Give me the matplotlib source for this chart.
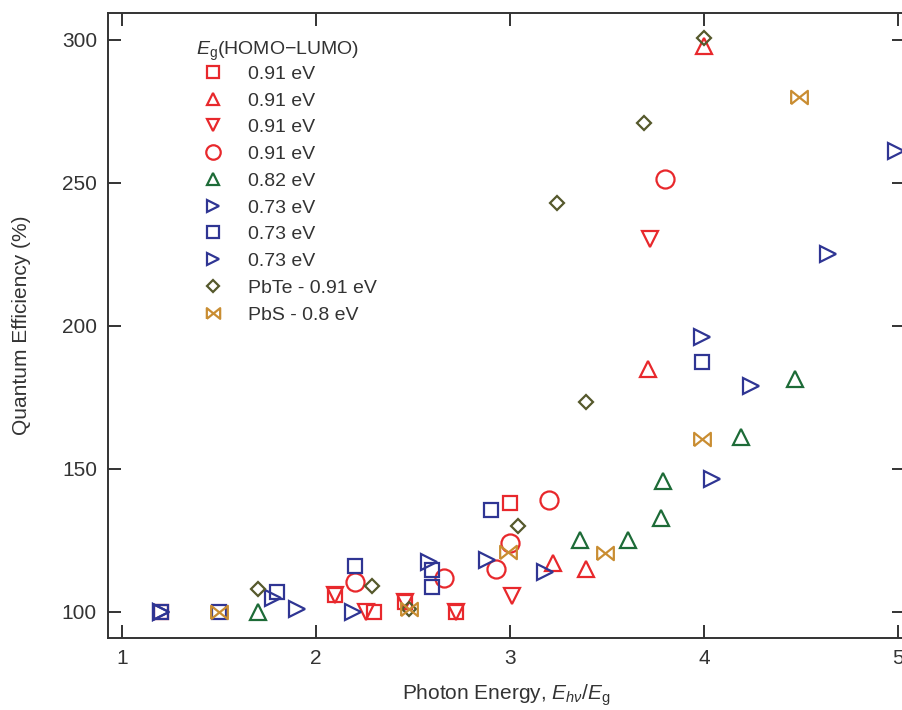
import matplotlib
matplotlib.use("Agg")
from matplotlib import pyplot as plt

plt.rcParams['font.family'] = ['Liberation Sans', 'DejaVu Sans']
plt.rcParams['mathtext.fontset'] = 'custom'
plt.rcParams['mathtext.rm'] = 'Liberation Sans'
plt.rcParams['mathtext.it'] = 'Liberation Sans:italic'

# data: x = photon energy / Eg, y = quantum efficiency (%)
sq_red_x = [1.2, 2.1, 2.3, 2.46, 2.72, 3.0]
sq_red_y = [100, 106, 100, 103.5, 100, 138]
tri_red_x = [3.22, 3.39, 3.71, 4.0]
tri_red_y = [117, 115, 185, 298]
dtri_red_x = [2.1, 2.26, 2.46, 2.72, 3.01, 3.72]
dtri_red_y = [106, 100, 103.5, 100, 105.5, 230.5]
circ_red_x = [2.2, 2.66, 2.93, 3.0, 3.2, 3.8]
circ_red_y = [110.5, 112, 115, 124, 139, 251.5]
tri_green_x = [1.7, 3.36, 3.61, 3.78, 3.79, 4.19, 4.47]
tri_green_y = [100, 125, 125, 133, 145.7, 161, 181.5]
rtri_blue1_x = [1.2, 1.9, 2.58, 3.18, 3.99, 4.64, 4.99]
rtri_blue1_y = [100, 101, 117.5, 114, 196, 225, 261.3]
sq_blue_x = [1.2, 1.5, 1.8, 2.2, 2.6, 2.6, 2.9, 3.99]
sq_blue_y = [100, 100, 107, 116, 114.6, 108.7, 135.5, 187.5]
rtri_blue2_x = [1.2, 1.78, 2.19, 2.88, 4.04, 4.24]
rtri_blue2_y = [100, 105, 100, 118, 146.5, 179]
pbte_x = [1.7, 2.29, 2.48, 3.04, 3.24, 3.39, 3.69, 4.0]
pbte_y = [108, 109, 101, 130, 243, 173.5, 271, 300.5]
pbs_x = [1.5, 2.48, 2.99, 3.49, 3.99, 4.49]
pbs_y = [100, 101, 121, 120.5, 160.5, 280]

labels = ['0.91 eV', '0.91 eV', '0.91 eV', '0.91 eV', '0.82 eV',
          '0.73 eV', '0.73 eV', '0.73 eV', 'PbTe - 0.91 eV', 'PbS - 0.8 eV']

red = '#e8282c'
green = '#1d6b37'
blue = '#2f3593'
olive = '#55592c'
orange = '#c98d32'

bowtie = [(-1, -0.8), (-1, 0.8), (1, -0.8), (1, 0.8), (-1, -0.8)]

series = [
    (sq_red_x, sq_red_y, 's', red, 10.5),
    (tri_red_x, tri_red_y, '^', red, 11),
    (dtri_red_x, dtri_red_y, 'v', red, 11),
    (circ_red_x, circ_red_y, 'o', red, 13),
    (tri_green_x, tri_green_y, '^', green, 11),
    (rtri_blue1_x, rtri_blue1_y, '>', blue, 11),
    (sq_blue_x, sq_blue_y, 's', blue, 10.5),
    (rtri_blue2_x, rtri_blue2_y, '>', blue, 11),
    (pbte_x, pbte_y, 'D', olive, 7.5),
    (pbs_x, pbs_y, bowtie, orange, 12),
]

fig = plt.figure(figsize=(9.03, 7.10), dpi=100)
ax = fig.add_axes([108/903, 72/710, 797/903, 625/710])

for (x, y, m, c, ms), lab in zip(series, labels):
    ax.plot(x, y, ls='none', marker=m, ms=ms, mfc='none', mec=c, mew=1.6,
            label=lab, clip_on=False)

ax.set_xlim(0.928, 5.036)
ax.set_ylim(90.9, 309.4)
ax.set_xticks([1, 2, 3, 4, 5])
ax.set_yticks([100, 150, 200, 250, 300])
ax.tick_params(direction='in', length=9.5, width=1.4, labelsize=15,
               top=True, right=True, pad=8, colors='#333333')
for s in ax.spines.values():
    s.set_linewidth(1.4)
    s.set_color('#333333')

ax.set_xlabel(r'Photon Energy, $E_{h\nu}/E_\mathrm{g}$', fontsize=15, color='#333333', labelpad=10)
ax.set_ylabel('Quantum Efficiency (%)', fontsize=15, color='#333333', labelpad=22)

leg = ax.legend(loc='upper left', bbox_to_anchor=(0.11, 0.957), frameon=False,
                title=r'$E_\mathrm{g}$(HOMO$-$LUMO)', alignment='left',
                fontsize=14, title_fontsize=14, borderpad=0, borderaxespad=0,
                handlelength=1.75, handletextpad=0.95, labelspacing=0.47,
                markerscale=0.8)
# tighter gap between title and first entry
leg._legend_box.sep = 1.5
for t in leg.get_texts():
    t.set_color('#333333')
leg.get_title().set_color('#333333')

plt.savefig('out.png', dpi=100)
